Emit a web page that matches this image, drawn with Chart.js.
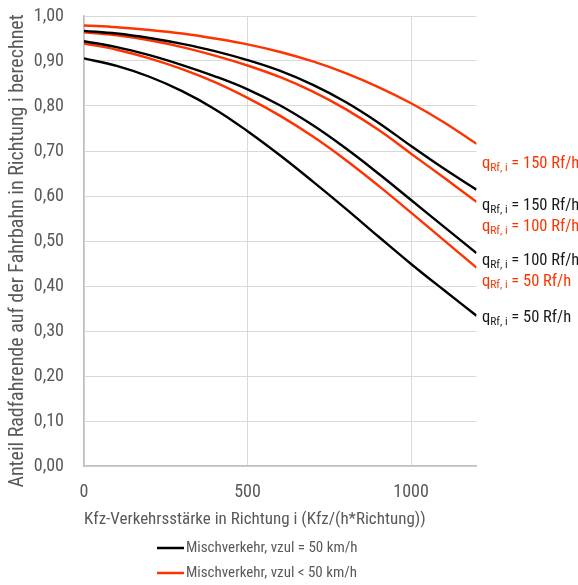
<!DOCTYPE html>
<html>
<head>
<meta charset="utf-8">
<script src="https://cdn.jsdelivr.net/npm/chart.js@4.4.1/dist/chart.umd.min.js"></script>
<style>
  html, body { margin: 0; padding: 0; background: #fff; }
  #wrap { width: 578px; height: 585px; }
</style>
</head>
<body>
<div id="wrap"><canvas id="chart" width="578" height="585"></canvas></div>
<script>
// --- data ---
const xValues = [0, 100, 200, 300, 400, 500, 600, 700, 800, 900, 1000, 1100, 1200];
const black50  = [0.906, 0.889, 0.865, 0.833, 0.793, 0.744, 0.690, 0.632, 0.572, 0.510, 0.449, 0.391, 0.334];
const black100 = [0.944, 0.931, 0.913, 0.891, 0.866, 0.837, 0.801, 0.757, 0.706, 0.650, 0.591, 0.532, 0.473];
const black150 = [0.967, 0.961, 0.951, 0.938, 0.922, 0.902, 0.878, 0.847, 0.809, 0.763, 0.711, 0.661, 0.614];
const red50    = [0.939, 0.925, 0.906, 0.882, 0.853, 0.818, 0.778, 0.732, 0.680, 0.623, 0.563, 0.502, 0.441];
const red100   = [0.964, 0.957, 0.946, 0.931, 0.912, 0.890, 0.864, 0.832, 0.793, 0.747, 0.694, 0.641, 0.587];
const red150   = [0.979, 0.975, 0.969, 0.961, 0.950, 0.937, 0.920, 0.899, 0.873, 0.842, 0.806, 0.764, 0.716];

const xTickValues = [0, 500, 1000];
const groupLabels = ['Mischverkehr, vzul = 50 km/h', 'Mischverkehr, vzul < 50 km/h'];
const flowLabels = ['50', '100', '150'];
const xTitle = 'Kfz-Verkehrsstärke in Richtung i (Kfz/(h*Richtung))';
const yTitle = 'Anteil Radfahrende auf der Fahrbahn in Richtung i berechnet';

// --- styling ---
const FONT = "'Roboto Condensed', 'Liberation Sans Narrow', 'Liberation Sans', sans-serif";
const GREY = '#595959';
const groupColors = ['#000000', '#ff3300'];
const labelTextColors = ['#1a1a1a', '#ff3300'];

// series: [values, group, flow index, label y offset in px]
const series = [
  [black50, 0, 0, 2],
  [black100, 0, 1, 8],
  [black150, 0, 2, 16],
  [red50, 1, 0, 14],
  [red100, 1, 1, 25],
  [red150, 1, 2, 20]
];

const datasets = series.map(s => ({
  label: groupLabels[s[1]] + ' / ' + flowLabels[s[2]],
  data: s[0].map((v, i) => ({ x: xValues[i], y: v })),
  borderColor: groupColors[s[1]],
  borderWidth: 2.4,
  pointRadius: 0,
  fill: false,
  tension: 0.4
}));

// end-of-line labels  q_{Rf, i} = 150 Rf/h
const endLabels = {
  id: 'endLabels',
  afterDatasetsDraw(chart) {
    const ctx = chart.ctx;
    ctx.save();
    ctx.textBaseline = 'middle';
    ctx.textAlign = 'left';
    series.forEach((s, i) => {
      const pts = chart.getDatasetMeta(i).data;
      const last = pts[pts.length - 1];
      let x = chart.chartArea.right + 5.5;
      const y = last.y + s[3];
      ctx.fillStyle = labelTextColors[s[1]];
      ctx.font = '16.5px ' + FONT;
      ctx.fillText('q', x, y);
      x += ctx.measureText('q').width;
      ctx.font = '11.5px ' + FONT;
      ctx.fillText('Rf, i', x, y + 4);
      x += ctx.measureText('Rf, i').width;
      ctx.font = '16.5px ' + FONT;
      ctx.fillText(' = ' + flowLabels[s[2]] + ' Rf/h', x, y);
    });
    ctx.restore();
  }
};

// rotated y title + two-row legend under the x title
const extras = {
  id: 'extras',
  afterDraw(chart) {
    const ctx = chart.ctx;
    ctx.save();
    ctx.fillStyle = GREY;
    ctx.font = '20px ' + FONT;
    ctx.textAlign = 'center';
    ctx.textBaseline = 'middle';
    ctx.translate(18, 251);
    ctx.rotate(-Math.PI / 2);
    ctx.fillText(yTitle, 0, 0);
    ctx.restore();

    ctx.save();
    ctx.font = '15px ' + FONT;
    ctx.textBaseline = 'middle';
    ctx.textAlign = 'left';
    groupLabels.forEach((lbl, i) => {
      const y = 548 + i * 25;
      ctx.strokeStyle = groupColors[i];
      ctx.lineWidth = 2.5;
      ctx.beginPath();
      ctx.moveTo(157, y);
      ctx.lineTo(184, y);
      ctx.stroke();
      ctx.fillStyle = GREY;
      ctx.fillText(lbl, 186, y);
    });
    ctx.restore();
  }
};

new Chart(document.getElementById('chart'), {
  type: 'line',
  data: { datasets: datasets },
  plugins: [endLabels, extras],
  options: {
    responsive: false,
    animation: false,
    layout: { padding: { top: 16, right: 101.5, bottom: 50, left: 0 } },
    plugins: {
      legend: { display: false },
      tooltip: { enabled: false }
    },
    scales: {
      x: {
        type: 'linear',
        min: 0,
        max: 1200,
        afterBuildTicks: scale => { scale.ticks = xTickValues.map(v => ({ value: v })); },
        afterFit: scale => { scale.height = 69; },
        grid: { color: '#d9d9d9', drawTicks: false },
        border: { color: '#bfbfbf', width: 1.5 },
        ticks: {
          color: GREY, font: { family: FONT, size: 18 }, padding: 16, maxRotation: 0,
          callback: v => String(v)
        },
        title: {
          display: true, text: xTitle, align: 'start', color: GREY,
          font: { family: FONT, size: 17 }, padding: { top: 0, bottom: 5 }
        }
      },
      y: {
        min: 0,
        max: 1,
        afterFit: scale => {
          scale.width = 84;
          scale.paddingTop = 0;
          scale.paddingBottom = 0;
        },
        grid: { color: '#d9d9d9', drawTicks: false },
        border: { color: '#bfbfbf', width: 1.5 },
        ticks: {
          stepSize: 0.1, color: GREY, font: { family: FONT, size: 18 }, padding: 20,
          callback: v => v.toFixed(2).replace('.', ',')
        },
        title: { display: false }
      }
    }
  }
});
</script>
</body>
</html>
